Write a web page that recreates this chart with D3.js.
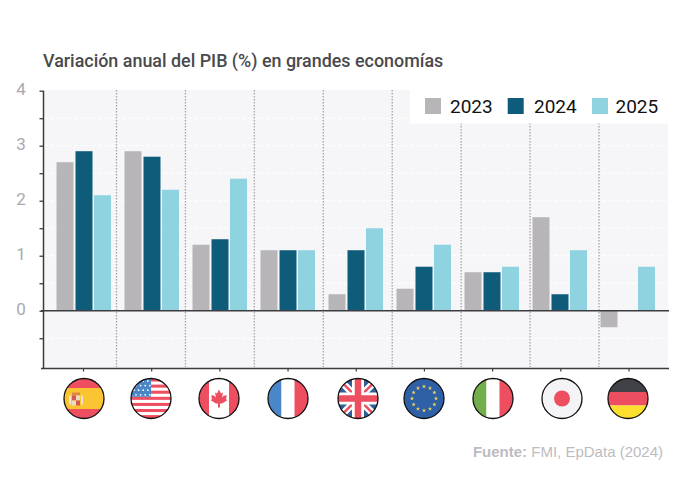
<!DOCTYPE html>
<html>
<head>
<meta charset="utf-8">
<script src="https://cdn.jsdelivr.net/npm/d3@7"></script>
<style>
  html, body { margin: 0; padding: 0; background: #fff; }
  svg { display: block; }
  text { font-family: Roboto, sans-serif; }
</style>
</head>
<body>
<div id="chart"></div>
<script>
"use strict";

const countries = ["es", "us", "ca", "fr", "uk", "eu", "it", "jp", "de"];
const years = ["2023", "2024", "2025"];
const values2023 = [2.7, 2.9, 1.2, 1.1, 0.3, 0.4, 0.7, 1.7, -0.3];
const values2024 = [2.9, 2.8, 1.3, 1.1, 1.1, 0.8, 0.7, 0.3, 0];
const values2025 = [2.1, 2.2, 2.4, 1.1, 1.5, 1.2, 0.8, 1.1, 0.8];
const yLabels = [0, 1, 2, 3, 4];
const yTicks = [-0.5, 0, 0.5, 1, 1.5, 2, 2.5, 3, 3.5, 4];

const colors = { "2023": "#b7b5b8", "2024": "#0f5c7a", "2025": "#8fd3e0" };
const series = [values2023, values2024, values2025];

const width = 690, height = 486;
const svg = d3.select("#chart").append("svg").attr("width", width).attr("height", height);

const y = d3.scaleLinear().domain([-1.05, 4]).range([368.5, 90.7]);
const x = d3.scalePoint().domain(countries).range([84, 628]);
const tickX = d3.scalePoint().domain(countries).range([83, 628.5]);
const sep = d3.scaleLinear().domain([1, 8]).range([116.5, 599]);
const barOffset = d3.scaleOrdinal().domain(years).range([-19, 0, 18.5]);
const barW = 17;

// plot background
svg.append("rect").attr("x", 44).attr("y", 90).attr("width", 624).attr("height", 278.5).attr("fill", "#f6f5f8");

// white dashed grid
svg.append("g").selectAll("line").data(yTicks.filter(d => d !== 0 && d !== 4)).join("line")
  .attr("x1", 44).attr("x2", 668)
  .attr("y1", d => y(d)).attr("y2", d => y(d))
  .attr("stroke", "#fff").attr("stroke-width", 1).attr("stroke-dasharray", "4 2");

// group separators
svg.append("g").selectAll("line").data(d3.range(1, 9)).join("line")
  .attr("x1", d => sep(d)).attr("x2", d => sep(d))
  .attr("y1", 90).attr("y2", 367)
  .attr("stroke", "#a5a5a9").attr("stroke-width", 1.3).attr("stroke-dasharray", "1.5 1.5");

// bars
years.forEach((yr, i) => {
  svg.append("g").selectAll("rect").data(series[i]).join("rect")
    .attr("x", (d, j) => x(countries[j]) + barOffset(yr) - barW / 2)
    .attr("width", barW)
    .attr("y", d => y(Math.max(d, 0)))
    .attr("height", d => Math.abs(y(d) - y(0)))
    .attr("fill", colors[yr]);
});

// zero line
svg.append("line").attr("x1", 41).attr("x2", 669).attr("y1", y(0)).attr("y2", y(0))
  .attr("stroke", "#3c3c40").attr("stroke-width", 1.3);

// y axis
const yAxis = svg.append("g").attr("transform", "translate(43.5,0)")
  .call(d3.axisLeft(y).tickValues(yTicks).tickSize(4).tickFormat(""));
yAxis.selectAll("line").attr("stroke", "#3c3c40").attr("stroke-width", 1.3);
yAxis.select(".domain").attr("stroke", "#3c3c40").attr("stroke-width", 1.5)
  .attr("d", `M0,${y(4)}V${y.range()[0]}`);

svg.append("g").selectAll("text").data(yLabels).join("text")
  .attr("x", 21).attr("y", d => y(d) - 1.5).attr("text-anchor", "middle")
  .attr("dominant-baseline", "central")
  .attr("fill", "#a9a9ad").attr("font-size", 17).text(d => d);

// x axis
const xAxis = svg.append("g").attr("transform", "translate(0,368.5)")
  .call(d3.axisBottom(tickX).tickSize(3).tickFormat(""));
xAxis.selectAll("line").attr("stroke", "#3c3c40").attr("stroke-width", 1.2);
xAxis.select(".domain").attr("stroke", "#3c3c40").attr("stroke-width", 1.3)
  .attr("d", "M41,0H669");

// title
svg.append("text").attr("x", 43).attr("y", 67).attr("font-size", 17.9).attr("font-weight", 500)
  .attr("fill", "#4a4a4d").text("Variación anual del PIB (%) en grandes economías");

// legend
svg.append("rect").attr("x", 410).attr("y", 87).attr("width", 259).attr("height", 36.5).attr("fill", "#fff");
const legendX = d3.scaleOrdinal().domain(years).range([425, 507.7, 592]);
const legendTextX = d3.scaleOrdinal().domain(years).range([450, 534, 615.5]);
const legend = svg.append("g").selectAll("g").data(years).join("g");
legend.append("rect").attr("x", d => legendX(d)).attr("y", 98).attr("width", 16).attr("height", 16).attr("fill", d => colors[d]);
legend.append("text").attr("x", d => legendTextX(d)).attr("y", 112.5).attr("font-size", 19).attr("fill", "#111").text(d => d);

// source
const src = svg.append("text").attr("x", 663).attr("y", 456.5).attr("text-anchor", "end")
  .attr("font-size", 15).attr("fill", "#bcbcbf").style("font-family", "'Liberation Sans', Arial, sans-serif");
src.append("tspan").attr("font-weight", 700).text("Fuente: ");
src.append("tspan").text("FMI, EpData (2024)");

// flags, drawn in a local box of radius 20
const R = 20;
const red = "#ee4f60", navy = "#2f5f95";
const band = (g, x0, y0, w, h, c) => g.append("rect").attr("x", x0).attr("y", y0).attr("width", w).attr("height", h).attr("fill", c);

const flags = {
  es(g) {
    band(g, -R, -R, 40, 40, red);
    band(g, -R, -10.5, 40, 21, "#fbc531");
    band(g, -12, -6, 8, 3, "#d98a3a");
    band(g, -12, -3, 4, 5, "#d9574f");
    band(g, -8, -3, 4, 5, "#e9dcc0");
    band(g, -12, 2, 4, 5, "#e9dcc0");
    band(g, -8, 2, 4, 5, "#d9574f");
    band(g, -15, -3, 2, 9, "#efe6d2");
    band(g, -3, -3, 2, 9, "#efe6d2");
  },
  us(g) {
    band(g, -R, -R, 40, 40, "#fff");
    d3.range(0, 7).forEach(i => band(g, -R, -R + i * 6.1, 40, 3.05, red));
    band(g, -R, -R, 20, 18.3, "#4a86c8");
    d3.range(0, 4).forEach(r => d3.range(0, 4).forEach(c =>
      g.append("circle").attr("cx", -17 + c * 4.6 + (r % 2) * 2).attr("cy", -17.5 + r * 4.6).attr("r", 0.9).attr("fill", "#fff")));
  },
  ca(g) {
    band(g, -R, -R, 40, 40, "#fff");
    band(g, -R, -R, 10, 40, red);
    band(g, 10, -R, 10, 40, red);
    g.append("path").attr("fill", red)
      .attr("d", "M0,-9 L2,-5 L4,-6 L3,-1 L5,-3 L8,-3 L7,0 L8,2 L3,5 L1,5 L1,9 L-1,9 L-1,5 L-3,5 L-8,2 L-7,0 L-8,-3 L-5,-3 L-3,-1 L-4,-6 L-2,-5 Z");
  },
  fr(g) {
    band(g, -R, -R, 13.5, 40, "#4a86c8");
    band(g, -6.5, -R, 13, 40, "#fff");
    band(g, 6.5, -R, 13.5, 40, red);
  },
  uk(g) {
    band(g, -R, -R, 40, 40, navy);
    const ln = (x1, y1, x2, y2, w, c) => g.append("line").attr("x1", x1).attr("y1", y1).attr("x2", x2).attr("y2", y2).attr("stroke", c).attr("stroke-width", w);
    ln(-R, -R, R, R, 7, "#fff"); ln(-R, R, R, -R, 7, "#fff");
    ln(-R, -R, R, R, 2.5, red); ln(-R, R, R, -R, 2.5, red);
    ln(0, -R, 0, R, 12, "#fff"); ln(-R, 0, R, 0, 12, "#fff");
    ln(0, -R, 0, R, 6.5, red); ln(-R, 0, R, 0, 6.5, red);
  },
  eu(g) {
    band(g, -R, -R, 40, 40, "#2f5fa5");
    d3.range(12).forEach(i => {
      const a = i * Math.PI / 6;
      g.append("path").attr("d", d3.symbol(d3.symbolStar, 6)())
        .attr("transform", `translate(${12 * Math.sin(a)},${-12 * Math.cos(a)})`).attr("fill", "#e8d25a");
    });
  },
  it(g) {
    band(g, -R, -R, 13.5, 40, "#74ad4b");
    band(g, -6.5, -R, 13, 40, "#fff");
    band(g, 6.5, -R, 13.5, 40, red);
  },
  jp(g) {
    band(g, -R, -R, 40, 40, "#f4f3f6");
    g.append("circle").attr("r", 8).attr("fill", red);
  },
  de(g) {
    band(g, -R, -R, 40, 14, "#3f4147");
    band(g, -R, -6.5, 40, 13.5, red);
    band(g, -R, 7, 40, 13, "#fde02f");
  }
};

const flagNudge = [0, -1, -1, 0, 2, 0, 1, 2, 0];
const defs = svg.append("defs");
countries.forEach((c, i) => {
  defs.append("clipPath").attr("id", "clip-" + c).append("circle").attr("r", R);
  const g = svg.append("g").attr("transform", `translate(${x(c) + flagNudge[i]},398.5)`);
  flags[c](g.append("g").attr("clip-path", `url(#clip-${c})`));
  g.append("circle").attr("r", R).attr("fill", "none").attr("stroke", "#111").attr("stroke-width", 1.3);
});
</script>
</body>
</html>
